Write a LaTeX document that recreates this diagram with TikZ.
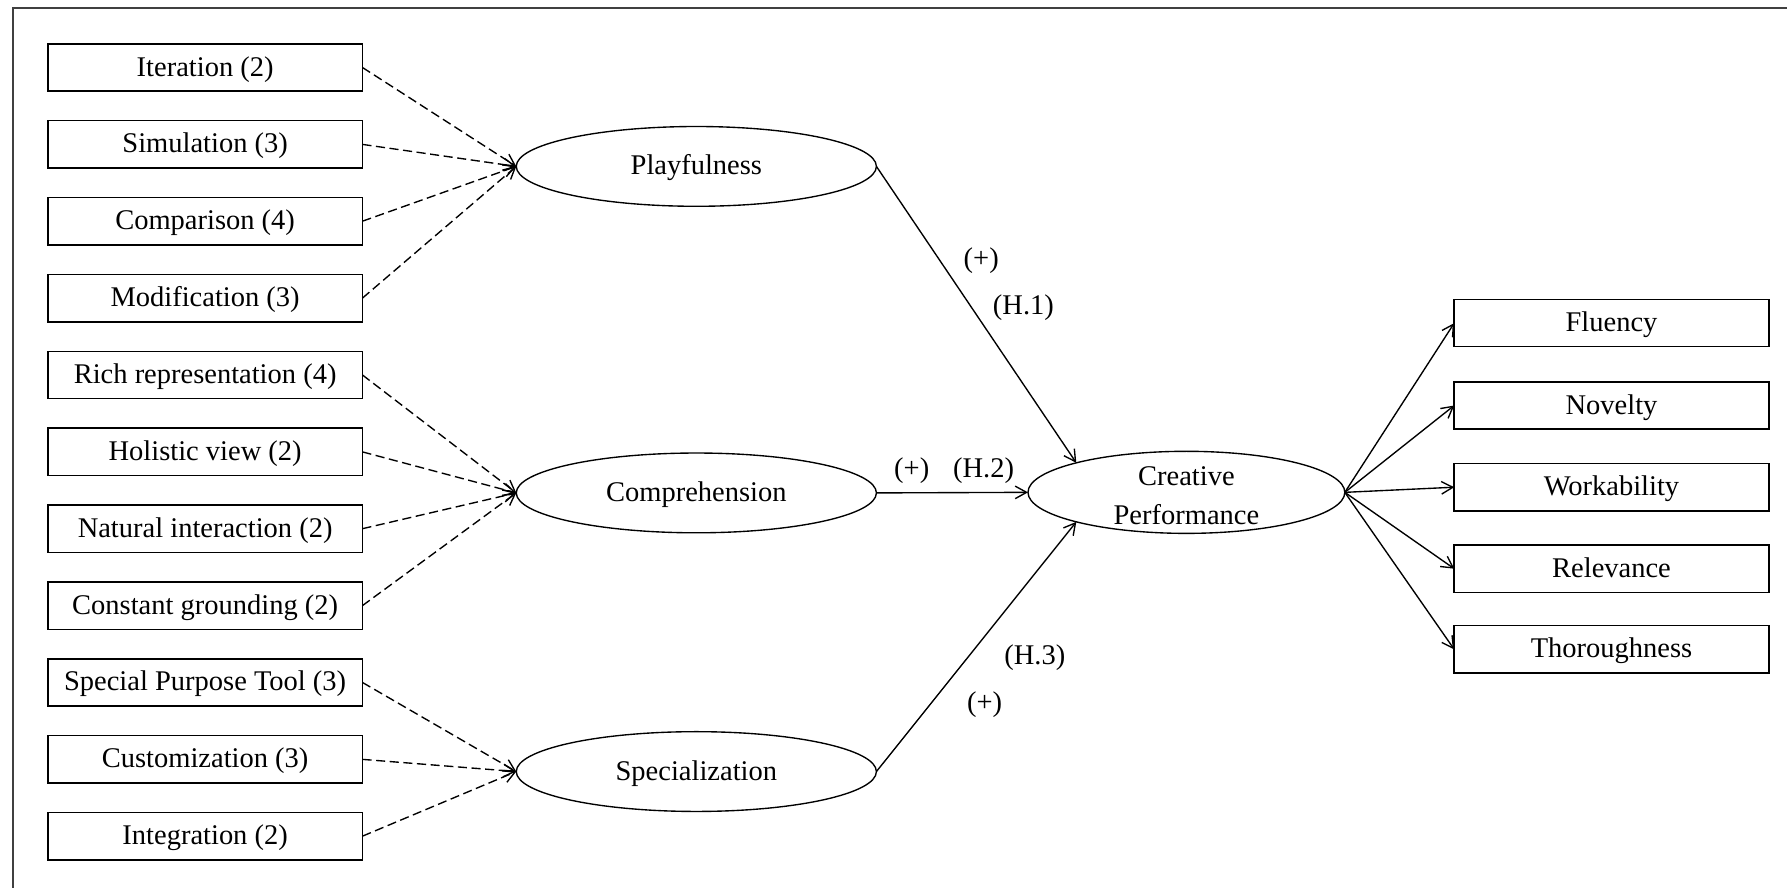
\documentclass[tikz,border=0pt]{standalone}
\usepackage{fontspec}
\setmainfont{Liberation Serif}
\usetikzlibrary{arrows.meta,shapes.geometric}
\begin{document}
\begin{tikzpicture}[x=1pt,y=-1pt,
  every node/.style={font=\fontsize{25}{34}\selectfont, inner sep=0pt, outer sep=0pt},
  itembox/.style={draw, line width=1.3pt, minimum width=276pt, minimum height=41.5pt,
    text height=20pt, text depth=5pt},
  construct/.style={draw, ellipse, line width=1.2pt, minimum width=316pt, minimum height=70pt,
    text height=20pt, text depth=5pt},
  barb/.style={-{Straight Barb[length=10pt,width=11pt]}},
  formative/.style={barb, line width=1.2pt, dash pattern=on 8pt off 4pt},
  effect/.style={barb, line width=1.2pt}
]
\useasboundingbox (0,0) rectangle (1568,779);
% partial frame: top and left edges only
\draw[line width=2pt, black!75] (11.5,779) -- (11.5,7) -- (1568,7);

% indicator boxes on the left
\node[itembox] (it)  at (180,59.2)  {Iteration (2)};
\node[itembox] (sim) at (180,126.7) {Simulation (3)};
\node[itembox] (cmp) at (180,194.1) {Comparison (4)};
\node[itembox] (mod) at (180,261.6) {Modification (3)};
\node[itembox] (rr)  at (180,329)   {Rich representation (4)};
\node[itembox] (hv)  at (180,396.5) {Holistic view (2)};
\node[itembox] (ni)  at (180,463.9) {Natural interaction (2)};
\node[itembox] (cg)  at (180,531.4) {Constant grounding (2)};
\node[itembox] (spt) at (180,598.8) {Special Purpose Tool (3)};
\node[itembox] (cus) at (180,666.3) {Customization (3)};
\node[itembox] (int) at (180,733.7) {Integration (2)};

% latent constructs
\node[construct] (play) at (611,146)   {Playfulness};
\node[construct] (comp) at (611,432.5) {Comprehension};
\node[construct] (spec) at (611,677)   {Specialization};

\node[draw, ellipse, line width=1.2pt, minimum width=278pt, minimum height=72pt] (cp) at (1041,432) {};
\node[align=center] (cptext) at (1041,435) {Creative\\Performance};

% outcome boxes on the right
\node[itembox] (flu) at (1414,283.5) {Fluency};
\node[itembox] (nov) at (1414,355.8) {Novelty};
\node[itembox] (wor) at (1414,427.5) {Workability};
\node[itembox] (rel) at (1414,499)   {Relevance};
\node[itembox] (tho) at (1414,569.8) {Thoroughness};

% formative indicators
\foreach \b in {it,sim,cmp,mod} \draw[formative] (\b.east) -- (play.west);
\foreach \b in {rr,hv,ni,cg} \draw[formative] (\b.east) -- (comp.west);
\foreach \b in {spt,cus,int} \draw[formative] (\b.east) -- (spec.west);

% hypothesised paths
\draw[effect] (play.east) -- (cp.165.4);
\draw[effect] (comp.east) -- (cp.west);
\draw[effect] (spec.east) -- (cp.195.3);

\node (s1) at (861,229) {(+)};
\node (h1) at (898,270) {(H.1)};
\node (s2) at (800,413) {(+)};
\node (h2) at (863,413) {(H.2)};
\node (h3) at (908,577) {(H.3)};
\node (s3) at (864,618) {(+)};

% reflective outcomes
\foreach \b in {flu,nov,wor,rel,tho} \draw[effect] (cp.east) -- (\b.west);
\end{tikzpicture}
\end{document}
